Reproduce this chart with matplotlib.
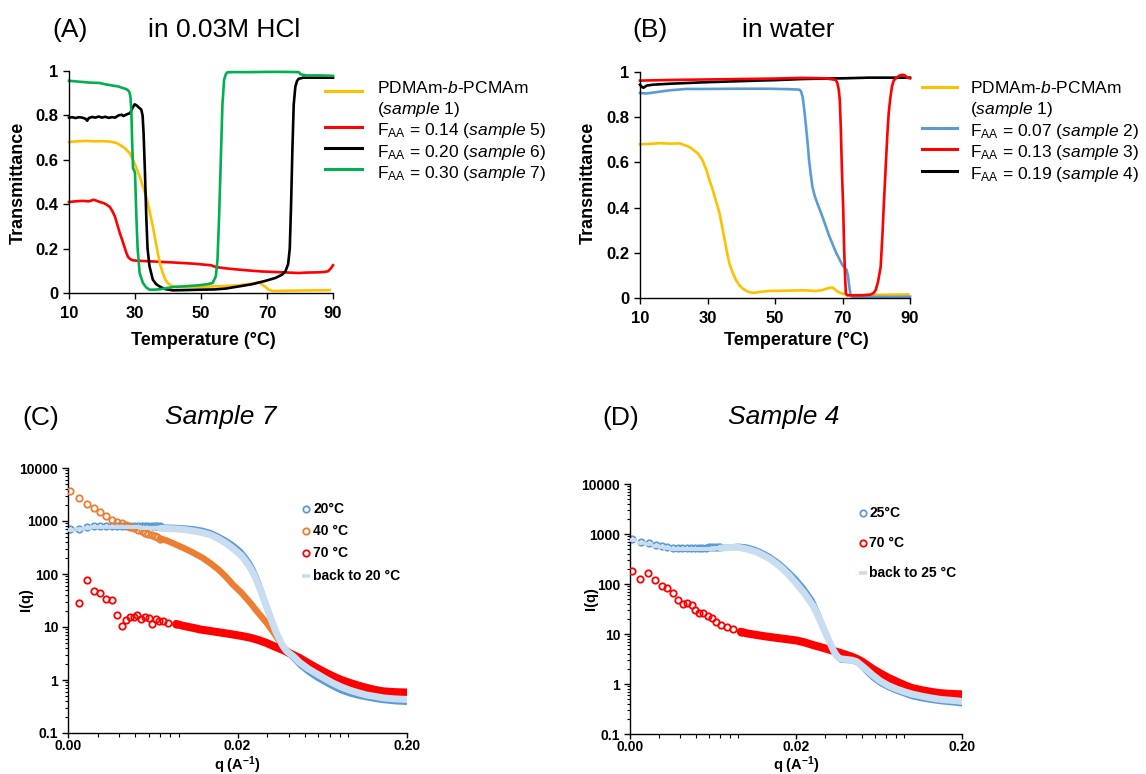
import numpy as np
import matplotlib
matplotlib.use("Agg")
import matplotlib.pyplot as plt
from matplotlib.lines import Line2D
from matplotlib.ticker import LogLocator, NullFormatter, FixedLocator, FixedFormatter

plt.rcParams['font.family'] = ['Liberation Sans', 'DejaVu Sans']
plt.rcParams['mathtext.fontset'] = 'custom'
plt.rcParams['mathtext.rm'] = 'Liberation Sans'
plt.rcParams['mathtext.it'] = 'Liberation Sans:italic'
plt.rcParams['mathtext.bf'] = 'Liberation Sans:bold'

# ---------------- data: panel A (in 0.03M HCl) ----------------
a_s1_T = [10, 12, 15, 18, 20, 22.4, 24.4, 26.9, 28.4, 29.4, 30.4, 31.4, 32.4, 33.4, 34.4, 35.4, 36.4, 36.9,
          37.6, 38.4, 39.2, 39.9, 41, 42.5, 45.5, 50, 54.5, 58, 61.6, 64.5, 66.6, 67.6, 68.4, 69.5, 70.5,
          71.8, 75, 80, 85, 89]
a_s1_v = [0.680, 0.683, 0.685, 0.683, 0.684, 0.682, 0.676, 0.653, 0.63, 0.60, 0.565, 0.525, 0.48, 0.435,
          0.37, 0.30, 0.22, 0.18, 0.13, 0.09, 0.06, 0.045, 0.033, 0.027, 0.027, 0.028, 0.03, 0.032, 0.035,
          0.04, 0.045, 0.048, 0.04, 0.028, 0.015, 0.009, 0.01, 0.011, 0.012, 0.013]

a_s5_T = [10, 12, 14, 16, 17.5, 18.5, 19.3, 20.5, 21.4, 22.4, 23.1, 23.9, 24.6, 25.4, 26.2, 26.9, 27.4,
          27.9, 28.6, 29.4, 31, 34.4, 38, 41, 44.5, 48, 51.5, 53, 54.5, 57, 59.5, 62.5, 65.6, 68.5, 71.6,
          75, 79.6, 82, 85.6, 87.5, 88.5, 89.3, 90]
a_s5_v = [0.41, 0.413, 0.415, 0.413, 0.42, 0.415, 0.41, 0.405, 0.398, 0.387, 0.37, 0.345, 0.31, 0.27,
          0.235, 0.203, 0.18, 0.162, 0.152, 0.147, 0.145, 0.143, 0.14, 0.138, 0.135, 0.132, 0.127, 0.125,
          0.117, 0.112, 0.108, 0.104, 0.10, 0.097, 0.095, 0.093, 0.09, 0.092, 0.093, 0.095, 0.098, 0.11, 0.125]

a_s6_T = [10, 11, 12, 13, 14, 15, 15.5, 16, 17, 18, 19, 20, 21, 22, 23, 24, 25, 26, 26.5, 27.5, 28.5,
          29.3, 29.9, 30.5, 31.2, 31.9, 32.3, 32.6, 33.0, 33.4, 33.8, 34.4, 35.4, 36.4, 37.4, 39, 41.5,
          45, 50, 54, 57.5, 61.6, 65.6, 69.6, 72.6, 74.6, 75.6, 76.4, 76.9, 77.3, 77.7, 78.1, 78.6,
          79.1, 79.6, 81, 85, 90]
a_s6_v = [0.79, 0.792, 0.788, 0.792, 0.79, 0.785, 0.776, 0.788, 0.793, 0.79, 0.795, 0.79, 0.794, 0.789,
          0.792, 0.79, 0.80, 0.803, 0.797, 0.805, 0.81, 0.835, 0.85, 0.845, 0.835, 0.826, 0.80, 0.72,
          0.55, 0.35, 0.2, 0.12, 0.06, 0.04, 0.03, 0.018, 0.012, 0.013, 0.015, 0.016, 0.02, 0.03, 0.04,
          0.055, 0.068, 0.083, 0.098, 0.13, 0.2, 0.4, 0.65, 0.85, 0.93, 0.955, 0.965, 0.97, 0.97, 0.97]

a_s7_T = [10, 13, 16, 19.3, 21, 23.4, 25, 26.4, 27.4, 27.9, 28.3, 28.6, 28.9, 29.1, 29.4, 29.7, 30.0,
          30.4, 30.8, 31.4, 32.4, 33.4, 34.4, 36, 38, 41.5, 45, 49.5, 52, 53.5, 54.5, 55.0, 55.5, 56.0,
          56.5, 57.0, 57.5, 58, 60, 65, 70, 75, 79.6, 80.2, 82, 86, 90]
a_s7_v = [0.956, 0.952, 0.948, 0.946, 0.94, 0.934, 0.93, 0.923, 0.918, 0.913, 0.905, 0.886, 0.82, 0.7,
          0.56, 0.555, 0.54, 0.35, 0.2, 0.09, 0.045, 0.025, 0.015, 0.015, 0.018, 0.027, 0.03, 0.035,
          0.04, 0.045, 0.075, 0.15, 0.35, 0.6, 0.85, 0.96, 0.985, 0.994, 0.995, 0.995, 0.996, 0.996,
          0.995, 0.985, 0.98, 0.98, 0.978]

# ---------------- data: panel B (in water) ----------------
b_s1_T = [10, 13, 16, 19, 21.8, 24.7, 27.2, 28.5, 29.7, 30.6, 31.6, 32.6, 33.6, 34.4, 35.1, 35.8, 36.5,
          37.5, 38.5, 39.5, 40.5, 41.7, 42.9, 44, 45.4, 48.3, 52, 55, 58.2, 60, 62.1, 64, 65.1, 66.5,
          67.3, 68.0, 69, 70.0, 71.5, 72.9, 76, 80, 85, 89.5]
b_s1_v = [0.68, 0.682, 0.685, 0.683, 0.684, 0.668, 0.639, 0.61, 0.565, 0.52, 0.476, 0.425, 0.373, 0.31,
          0.255, 0.2, 0.152, 0.11, 0.078, 0.055, 0.041, 0.03, 0.024, 0.023, 0.027, 0.031, 0.032, 0.033,
          0.034, 0.033, 0.031, 0.035, 0.041, 0.046, 0.045, 0.034, 0.025, 0.019, 0.014, 0.012, 0.013,
          0.014, 0.015, 0.016]

b_s2_T = [10, 12, 14.9, 18.8, 23.8, 30, 38.5, 48.3, 54, 57.2, 57.7, 58.2, 58.7, 59.2, 59.7, 60.1, 60.6,
          61.1, 61.8, 62.6, 64.1, 66.0, 68.0, 70.0, 71.2, 71.6, 71.9, 72.2, 72.4, 72.8, 75, 80, 85, 90]
b_s2_v = [0.907, 0.905, 0.911, 0.919, 0.925, 0.925, 0.926, 0.926, 0.924, 0.922, 0.915, 0.889, 0.83,
          0.757, 0.68, 0.609, 0.545, 0.491, 0.45, 0.417, 0.358, 0.277, 0.204, 0.145, 0.125, 0.1, 0.063,
          0.03, 0.012, 0.006, 0.005, 0.005, 0.005, 0.006]

b_s3_T = [10, 20, 30, 40, 50, 58, 65, 68, 68.5, 68.9, 69.2, 69.5, 69.8, 70.2, 70.5, 70.8, 71.0, 71.4,
          73, 76, 78.3, 79.2, 79.8, 80.5, 81.3, 81.8, 82.3, 82.8, 83.3, 83.7, 84.2, 84.7, 85.2, 86, 87,
          87.8, 88.5, 89.2, 90]
b_s3_v = [0.962, 0.965, 0.967, 0.969, 0.971, 0.974, 0.972, 0.965, 0.95, 0.92, 0.875, 0.75, 0.58, 0.4,
          0.21, 0.08, 0.02, 0.012, 0.012, 0.012, 0.015, 0.022, 0.034, 0.07, 0.137, 0.27, 0.432, 0.58,
          0.727, 0.82, 0.889, 0.94, 0.963, 0.975, 0.985, 0.988, 0.985, 0.975, 0.972]

b_s4_T = [10, 10.5, 11, 11.5, 12, 14, 18.8, 25, 30, 38.5, 45, 50, 58.2, 65, 70, 77.8, 84, 90]
b_s4_v = [0.944, 0.935, 0.93, 0.935, 0.94, 0.944, 0.948, 0.952, 0.955, 0.959, 0.962, 0.964, 0.969,
          0.971, 0.972, 0.975, 0.975, 0.975]

temp_ticks = [10, 30, 50, 70, 90]
trans_ticks = [0, 0.2, 0.4, 0.6, 0.8, 1]
trans_labels = ["0", "0.2", "0.4", "0.6", "0.8", "1"]

# ---------------- data: panel C (Sample 7, SAXS) ----------------
c20_q = [0.00205, 0.00232, 0.00259, 0.00285, 0.0031, 0.00336, 0.00362, 0.00388, 0.00414, 0.0044, 0.00466,
         0.00492, 0.00518, 0.00544, 0.0057, 0.00596, 0.00622, 0.00648, 0.00674, 0.007,
         0.0083, 0.0096, 0.011, 0.0125, 0.014, 0.0155, 0.017, 0.0189, 0.021, 0.0225, 0.0237, 0.025,
         0.026, 0.027, 0.028, 0.029, 0.0305, 0.032, 0.0338, 0.0355, 0.037, 0.039, 0.0427, 0.0465,
         0.052, 0.0584, 0.066, 0.0734, 0.082, 0.0921, 0.104, 0.1157, 0.13, 0.145, 0.17, 0.2]
c20_I = [706, 715, 780, 790, 790, 800, 805, 800, 810, 810, 815, 815, 820, 820, 820, 820, 820, 815, 815, 810,
         800, 780, 750, 700, 630, 540, 460, 370, 280, 215, 170, 125, 95, 70, 50, 36, 23, 14.5, 9, 6,
         4.3, 3.2, 2.4, 1.8, 1.35, 1.05, 0.84, 0.70, 0.59, 0.52, 0.47, 0.44, 0.41, 0.39, 0.37, 0.36]
c20b_I = [690, 700, 740, 760, 760, 770, 770, 770, 770, 765, 760, 760, 755, 750, 750, 745, 740, 735, 730, 725,
          715, 690, 650, 600, 540, 460, 385, 300, 225, 170, 132, 98, 74, 55, 40, 29, 19, 12.5, 8, 5.7,
          4.4, 3.5, 2.8, 2.15, 1.65, 1.32, 1.05, 0.87, 0.74, 0.64, 0.57, 0.52, 0.49, 0.46, 0.44, 0.43]

c40_q = [0.00205, 0.00232, 0.00259, 0.00285, 0.0031, 0.00336, 0.00362, 0.00388, 0.00414, 0.0044, 0.00466,
         0.00492, 0.00518, 0.00544, 0.0057, 0.00596, 0.00622, 0.00648, 0.00674, 0.007,
         0.0076, 0.0085, 0.0096, 0.011, 0.0125, 0.014, 0.0155, 0.017, 0.0189, 0.021, 0.0237, 0.0265,
         0.0297, 0.033, 0.037, 0.0406, 0.0465, 0.052, 0.0584, 0.066, 0.0734, 0.082, 0.0921, 0.104,
         0.1157, 0.13, 0.145, 0.17, 0.2]
c40_I = [3730, 2716, 2123, 1734, 1459, 1242, 1059, 960, 900, 840, 780, 725, 680, 640, 600, 570, 540, 515,
         490, 465, 430, 370, 310, 250, 200, 155, 120, 90, 62, 45, 29, 18.5, 12, 7.5, 4.3, 3.2, 2.3,
         1.8, 1.45, 1.15, 0.95, 0.82, 0.71, 0.63, 0.57, 0.53, 0.5, 0.48, 0.47]

c70_q = [0.00232, 0.00259, 0.00283, 0.00309, 0.00335, 0.00362, 0.00387, 0.00414, 0.0044, 0.00465, 0.0049,
         0.0051, 0.0054, 0.0057, 0.006, 0.0063, 0.0066, 0.0069, 0.0073, 0.0078, 0.0087,
         0.0096, 0.011, 0.012, 0.0135, 0.0151, 0.017, 0.0189, 0.021, 0.0237, 0.0265, 0.0297, 0.033,
         0.037, 0.041, 0.0465, 0.052, 0.0584, 0.066, 0.0734, 0.082, 0.0921, 0.104, 0.1157, 0.13, 0.145,
         0.17, 0.2]
c70_I = [28.4, 77, 47, 43, 33.7, 31.8, 17.1, 10.6, 13.4, 15.2, 15.4, 16.8, 14.2, 15.4, 14.7, 11.6, 13.9,
         13.0, 12.8, 12.0, 11.4, 10.5, 9.6, 9.0, 8.5, 8.05, 7.6, 7.2, 6.8, 6.3, 5.7, 5.0, 4.3, 3.7, 3.15,
         2.6, 2.1, 1.7, 1.38, 1.17, 1.0, 0.88, 0.78, 0.71, 0.65, 0.61, 0.59, 0.58]

# ---------------- data: panel D (Sample 4, SAXS) ----------------
d25_q = [0.00205, 0.00232, 0.00259, 0.00285, 0.0031, 0.00336, 0.00362, 0.00388, 0.00414, 0.0044, 0.00466,
         0.00492, 0.00518, 0.00544, 0.0057, 0.00596, 0.00622, 0.00648, 0.00674, 0.007,
         0.0078, 0.009, 0.0101, 0.0115, 0.0127, 0.014, 0.016, 0.018, 0.0202, 0.0225, 0.0254, 0.027,
         0.029, 0.031, 0.0325, 0.0335, 0.0347, 0.0359, 0.037, 0.04, 0.0435, 0.0464, 0.05, 0.0535, 0.058,
         0.0644, 0.072, 0.081, 0.09, 0.1, 0.115, 0.129, 0.15, 0.175, 0.2]
d25_I = [782, 681, 650, 593, 580, 558, 533, 520, 517, 518, 520, 525, 528, 532, 536, 540, 545, 550, 555, 560,
         580, 600, 580, 510, 440, 370, 270, 190, 130, 85, 48, 30, 17, 10, 6.5, 5.0, 3.8, 3.1, 2.85, 2.8,
         2.75, 2.55, 2.05, 1.6, 1.25, 0.97, 0.8, 0.68, 0.6, 0.53, 0.48, 0.45, 0.42, 0.40, 0.38]
d25b_I = [760, 660, 620, 570, 550, 530, 510, 500, 495, 495, 497, 500, 502, 505, 507, 510, 512, 515, 518, 520,
          535, 540, 500, 440, 375, 315, 225, 155, 100, 65, 36, 24, 14, 8.5, 6, 4.8, 3.9, 3.4, 3.2, 3.1,
          3.0, 2.8, 2.3, 1.9, 1.5, 1.15, 0.93, 0.79, 0.7, 0.63, 0.57, 0.53, 0.49, 0.47, 0.45]

d70_q = [0.00205, 0.0023, 0.00258, 0.00283, 0.0031, 0.00336, 0.00364, 0.0039, 0.0042, 0.0044, 0.0047,
         0.0049, 0.0052, 0.0055, 0.0059, 0.0062, 0.0066, 0.0071, 0.0077, 0.0084, 0.0093,
         0.0101, 0.0115, 0.0127, 0.014, 0.016, 0.018, 0.0202, 0.0225, 0.0254, 0.0285, 0.0321, 0.036,
         0.0404, 0.0435, 0.0464, 0.05, 0.0535, 0.058, 0.0644, 0.072, 0.081, 0.09, 0.1, 0.115, 0.129,
         0.145, 0.162, 0.2]
d70_I = [182, 128, 168, 120, 93, 84.5, 65, 48, 40, 42, 37.4, 30, 25.9, 26, 22.9, 20.6, 17.7, 15.1, 14,
         12.4, 11.1, 10.3, 9.6, 9.1, 8.7, 8.2, 7.8, 7.4, 6.8, 6.0, 5.4, 4.8, 4.3, 3.8, 3.5, 3.2, 2.8,
         2.4, 2.0, 1.63, 1.33, 1.11, 0.95, 0.83, 0.75, 0.70, 0.66, 0.64, 0.62]

q_ticks = [0.002, 0.02, 0.2]
q_labels = ["0.00", "0.02", "0.20"]
i_ticks = [0.1, 1, 10, 100, 1000, 10000]
i_labels = ["0.1", "1", "10", "100", "1000", "10000"]

# ---------------- colours ----------------
YEL, RED, BLK, GRN, BLU = "#FFC000", "#FF0000", "#000000", "#00B050", "#5B9BD5"
ORG, LBLU = "#ED7D31", "#C9DDF1"

W, H = 1146, 774
fig = plt.figure(figsize=(W / 100, H / 100), dpi=100)


def rect(l, t, r, b):
    return [l / W, 1 - b / H, (r - l) / W, (b - t) / H]


def fx(x):
    return x / W


def fy(y):
    return 1 - y / H


def style_axes(ax, tick_fs, xpad, ypad):
    for s in ("top", "right"):
        ax.spines[s].set_visible(False)
    for s in ("left", "bottom"):
        ax.spines[s].set_linewidth(1.0)
    ax.tick_params(which="major", direction="out", length=4, width=1.0, labelsize=tick_fs)
    ax.tick_params(axis="x", which="major", pad=xpad)
    ax.tick_params(axis="y", which="major", pad=ypad)
    for lab in ax.get_xticklabels() + ax.get_yticklabels():
        lab.set_fontweight("bold")


def trans_panel(rct, series, letter, title, lx, tx, legend_items, leg_line_x, leg_text_x, leg_lines_y,
                leg_text_y, ylab_x, xlab_x):
    ax = fig.add_axes(rct)
    for T, v, c in series:
        ax.plot(T, v, color=c, lw=1.9, solid_joinstyle="round", clip_on=False)
    ax.set_xlim(10, 90)
    ax.set_ylim(0, 1)
    ax.set_xticks(temp_ticks)
    ax.set_yticks(trans_ticks)
    ax.set_yticklabels(trans_labels)
    style_axes(ax, 12, 5.5, 3.5)
    fig.text(fx(ylab_x), fy(183), "Transmittance", rotation=90, ha="center", va="center",
             fontsize=13, fontweight="bold")
    fig.text(fx(xlab_x), fy(345), "Temperature (°C)", ha="center", va="baseline",
             fontsize=13, fontweight="bold")
    fig.text(fx(lx), fy(37), letter, fontsize=19, va="baseline")
    fig.text(fx(tx), fy(37), title, fontsize=19, va="baseline")
    for (c, ly) in zip([it[0] for it in legend_items if it[0]], leg_lines_y):
        fig.add_artist(Line2D([fx(leg_line_x[0]), fx(leg_line_x[1])], [fy(ly), fy(ly)], color=c, lw=2.2,
                              transform=fig.transFigure))
    for (it, ty) in zip(legend_items, leg_text_y):
        fig.text(fx(leg_text_x), fy(ty), it[1], fontsize=12.5, va="baseline")
    return ax


legA = [(YEL, r"PDMAm-$\it{b}$-PCMAm"), (None, r"($\it{sample\ 1}$)"),
        (RED, r"F$_{\rm AA}$ = 0.14 ($\it{sample\ 5}$)"),
        (BLK, r"F$_{\rm AA}$ = 0.20 ($\it{sample\ 6}$)"),
        (GRN, r"F$_{\rm AA}$ = 0.30 ($\it{sample\ 7}$)")]
trans_panel(rect(69, 71, 333, 293),
            [(a_s5_T, a_s5_v, RED), (a_s1_T, a_s1_v, YEL), (a_s6_T, a_s6_v, BLK), (a_s7_T, a_s7_v, GRN)],
            "(A)", "in 0.03M HCl", 52, 148, legA, (325, 362), 377, [91, 127, 148, 169],
            [93, 114, 135, 157, 178], 18, 203)

legB = [(YEL, r"PDMAm-$\it{b}$-PCMAm"), (None, r"($\it{sample\ 1}$)"),
        (BLU, r"F$_{\rm AA}$ = 0.07 ($\it{sample\ 2}$)"),
        (RED, r"F$_{\rm AA}$ = 0.13 ($\it{sample\ 3}$)"),
        (BLK, r"F$_{\rm AA}$ = 0.19 ($\it{sample\ 4}$)")]
trans_panel(rect(640, 72, 910, 298),
            [(b_s1_T, b_s1_v, YEL), (b_s2_T, b_s2_v, BLU), (b_s4_T, b_s4_v, BLK), (b_s3_T, b_s3_v, RED)],
            "(B)", "in water", 632, 742, legB, (922, 957), 970, [87, 128, 149, 171],
            [93, 114, 136, 157, 179], 588, 796)


def saxs(ax, q, I, color, qsplit, lw, z, marker="o"):
    q = np.asarray(q, float)
    I = np.asarray(I, float)
    sp = q <= qsplit
    if marker == "o":
        ax.plot(q[sp], I[sp], ls="none", marker="o", mfc="none", mec=color, ms=4.6, mew=1.3, zorder=z)
    else:
        ax.plot(q[sp], I[sp], ls="none", marker="_", mec=color, ms=6, mew=2.6, zorder=z)
    k = np.nonzero(sp)[0][-1]
    ax.plot(q[k:], I[k:], color=color, lw=lw, solid_capstyle="round", solid_joinstyle="round", zorder=z)


def saxs_axes(rct, ylab_xy, xlab_xy):
    ax = fig.add_axes(rct)
    ax.set_xscale("log")
    ax.set_yscale("log")
    ax.set_xlim(0.002, 0.2)
    ax.set_ylim(0.1, 10000)
    ax.xaxis.set_major_locator(FixedLocator(q_ticks))
    ax.xaxis.set_major_formatter(FixedFormatter(q_labels))
    ax.xaxis.set_minor_locator(LogLocator(base=10, subs=np.arange(2, 10)))
    ax.xaxis.set_minor_formatter(NullFormatter())
    ax.yaxis.set_major_locator(FixedLocator(i_ticks))
    ax.yaxis.set_major_formatter(FixedFormatter(i_labels))
    ax.yaxis.set_minor_locator(LogLocator(base=10, subs=np.arange(2, 10)))
    ax.yaxis.set_minor_formatter(NullFormatter())
    style_axes(ax, 10, 0.5, 3)
    ax.tick_params(which="minor", direction="out", width=0.8)
    ax.tick_params(axis="x", which="minor", length=2.8)
    ax.tick_params(axis="y", which="minor", length=2)
    ax.tick_params(axis="x", which="major", length=3.6)
    fig.text(fx(ylab_xy[0]), fy(ylab_xy[1]), "I(q)", rotation=90, ha="center", va="center",
             fontsize=10.5, fontweight="bold")
    fig.text(fx(xlab_xy[0]), fy(xlab_xy[1]), r"q (A$^{\mathbf{-1}}$)", ha="center", va="baseline",
             fontsize=10.5, fontweight="bold")
    return ax


def saxs_legend(items, mx, tx, ys):
    for (c, kind, lab), y in zip(items, ys):
        if kind == "o":
            fig.add_artist(Line2D([fx(mx)], [fy(y)], ls="none", marker="o", mfc="none", mec=c, ms=4.6,
                                  mew=1.3, transform=fig.transFigure))
        else:
            fig.add_artist(Line2D([fx(mx)], [fy(y)], ls="none", marker="_", mec=c, ms=6, mew=2.6,
                                  transform=fig.transFigure))
        fig.text(fx(tx), fy(y), lab, fontsize=10, fontweight="bold", va="center")


# Panel C
axC = saxs_axes(rect(68, 468, 407, 733), (26, 600), (237, 770))
saxs(axC, c20_q, c20_I, BLU, 0.0071, 2.2, 2)
saxs(axC, c40_q, c40_I, ORG, 0.0071, 4.6, 3)
saxs(axC, c70_q, c70_I, RED, 0.0088, 5.8, 4)
saxs(axC, c20_q, c20b_I, LBLU, 0.0071, 5.0, 5, marker="_")
fig.text(fx(22), fy(425), "(C)", fontsize=19, va="baseline")
fig.text(fx(165), fy(424), "Sample 7", fontsize=19, style="italic", va="baseline")
saxs_legend([(BLU, "o", "20°C"), (ORG, "o", "40 °C"), (RED, "o", "70 °C"), (LBLU, "_", "back to 20 °C")],
            306, 313, [509, 531, 553, 576])

# Panel D
axD = saxs_axes(rect(630, 484, 962, 734), (591, 599), (796, 770))
saxs(axD, d25_q, d25_I, BLU, 0.0071, 2.2, 2)
saxs(axD, d70_q, d70_I, RED, 0.0094, 5.8, 4)
saxs(axD, d25_q, d25b_I, LBLU, 0.0071, 5.0, 5, marker="_")
fig.text(fx(602), fy(425), "(D)", fontsize=19, va="baseline")
fig.text(fx(728), fy(424), "Sample 4", fontsize=19, style="italic", va="baseline")
saxs_legend([(BLU, "o", "25°C"), (RED, "o", "70 °C"), (LBLU, "_", "back to 25 °C")],
            863, 869, [513, 543, 573])

fig.savefig("out.png", dpi=100)
